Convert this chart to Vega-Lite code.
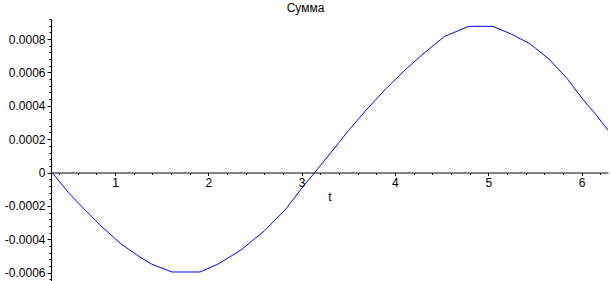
{
  "$schema": "https://vega.github.io/schema/vega-lite/v6.json",
  "autosize": "none",
  "padding": {"left": 51, "top": 19, "right": 3, "bottom": 0},
  "width": 557,
  "height": 262,
  "background": "white",
  "title": {"text": "Сумма", "anchor": "middle", "frame": "group", "dx": -24, "offset": -2, "font": "Liberation Sans", "fontSize": 12, "fontWeight": "normal", "color": "black"},
  "config": {"view": {"stroke": null}},
  "data": {"values": [
    {"t": 0.326, "v": 0},
    {"t": 0.5, "v": -0.00012},
    {"t": 0.67, "v": -0.000219},
    {"t": 0.85, "v": -0.00032},
    {"t": 1.065, "v": -0.000428},
    {"t": 1.25, "v": -0.0005},
    {"t": 1.39, "v": -0.000548},
    {"t": 1.61, "v": -0.000596},
    {"t": 1.91, "v": -0.000596},
    {"t": 2.1, "v": -0.00055},
    {"t": 2.35, "v": -0.000464},
    {"t": 2.6, "v": -0.00035},
    {"t": 2.83, "v": -0.000219},
    {"t": 3.0, "v": -0.000095},
    {"t": 3.14, "v": 0},
    {"t": 3.3, "v": 0.00011},
    {"t": 3.5, "v": 0.00025},
    {"t": 3.7, "v": 0.00038},
    {"t": 3.9, "v": 0.0005},
    {"t": 4.1, "v": 0.00061},
    {"t": 4.3, "v": 0.00071},
    {"t": 4.53, "v": 0.000815},
    {"t": 4.79, "v": 0.000876},
    {"t": 5.05, "v": 0.000876},
    {"t": 5.25, "v": 0.000829},
    {"t": 5.45, "v": 0.00077},
    {"t": 5.65, "v": 0.00068},
    {"t": 5.85, "v": 0.00056},
    {"t": 6.02, "v": 0.000434},
    {"t": 6.15, "v": 0.00035},
    {"t": 6.283, "v": 0.000254}
  ]},
  "mark": {"type": "line", "color": "#0000ff", "strokeWidth": 1, "clip": true},
  "encoding": {
    "x": {
      "field": "t", "type": "quantitative",
      "scale": {"domain": [0.314, 6.283], "nice": false, "zero": false},
      "axis": {
        "title": "t", "titleFont": "Liberation Sans", "titleFontSize": 12, "titleFontWeight": "normal", "titleColor": "black", "titlePadding": 3,
        "offset": -108.5,
        "values": [0.4, 0.6, 0.8, 1, 1.2, 1.4, 1.6, 1.8, 2, 2.2, 2.4, 2.6, 2.8, 3, 3.2, 3.4, 3.6, 3.8, 4, 4.2, 4.4, 4.6, 4.8, 5, 5.2, 5.4, 5.6, 5.8, 6, 6.2],
        "labelExpr": "abs(datum.value - round(datum.value)) < 0.01 ? '' + round(datum.value) : ''",
        "tickSize": {"condition": {"test": "abs(datum.value - round(datum.value)) < 0.01", "value": 3}, "value": 2},
        "labelFont": "Liberation Sans", "labelFontSize": 12, "labelColor": "black", "labelPadding": 2,
        "labelOverlap": false, "labelFlush": false, "labelBound": false,
        "grid": false, "domainColor": "black", "tickColor": "black", "domainWidth": 1, "tickWidth": 1
      }
    },
    "y": {
      "field": "v", "type": "quantitative",
      "scale": {"domain": [-0.00065, 0.00092], "nice": false, "zero": false},
      "axis": {
        "title": null,
        "values": [-0.00064, -0.0006, -0.00056, -0.00052, -0.00048, -0.00044, -0.0004, -0.00036, -0.00032, -0.00028, -0.00024, -0.0002, -0.00016, -0.00012, -0.00008, -0.00004, 0, 0.00004, 0.00008, 0.00012, 0.00016, 0.0002, 0.00024, 0.00028, 0.00032, 0.00036, 0.0004, 0.00044, 0.00048, 0.00052, 0.00056, 0.0006, 0.00064, 0.00068, 0.00072, 0.00076, 0.0008, 0.00084, 0.00088, 0.00092],
        "labelExpr": "abs(datum.value*5000 - round(datum.value*5000)) < 0.01 ? '' + round(datum.value*10000)/10000 : ''",
        "tickSize": {"condition": {"test": "abs(datum.value*5000 - round(datum.value*5000)) < 0.01", "value": 4}, "value": 2},
        "labelFont": "Liberation Sans", "labelFontSize": 12, "labelColor": "black", "labelPadding": 2,
        "labelOverlap": false, "labelFlush": false, "labelBound": false,
        "grid": false, "domainColor": "black", "tickColor": "black", "domainWidth": 1, "tickWidth": 1
      }
    }
  }
}
